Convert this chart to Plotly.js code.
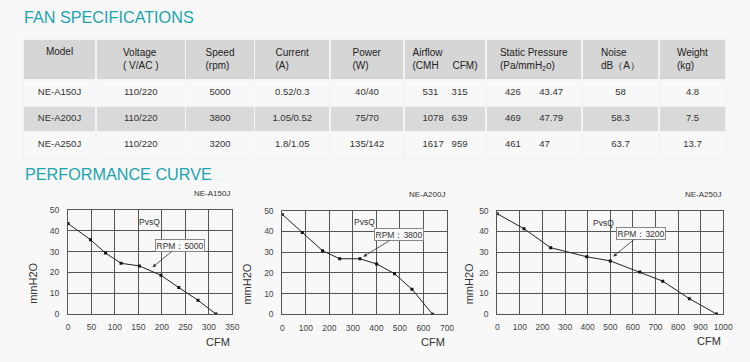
<!DOCTYPE html>
<html>
<head>
<meta charset="utf-8">
<script src="https://cdn.plot.ly/plotly-3.0.1.min.js"></script>
<style>
html,body{margin:0;padding:0;background:#f8f8f8;}
#chart{width:750px;height:362px;}
</style>
</head>
<body>
<div id="chart"></div>
<script>
// ---------- Table data ----------
const headers = ['Model', 'Voltage<br>( V/AC )', 'Speed<br>(rpm)', 'Current<br>(A)', 'Power<br>(W)',
  'Airflow\u00A0\u00A0\u00A0\u00A0\u00A0\u00A0\u00A0\u00A0<br>(CMH\u00A0\u00A0\u00A0\u00A0\u00A0CFM)',
  'Static Pressure<br>(Pa/mmH<sub>2</sub>o)', 'Noise<br>dB（A）', 'Weight<br>(kg)'];
const models = ['NE-A150J', 'NE-A200J', 'NE-A250J'];
const voltage = ['110/220', '110/220', '110/220'];
const speed = ['5000', '3800', '3200'];
const current = ['0.52/0.3', '1.05/0.52', '1.8/1.05'];
const power = ['40/40', '75/70', '135/142'];
const airflowCMH = ['531', '1078', '1617'];
const airflowCFM = ['315', '639', '959'];
const pressurePa = ['426', '469', '461'];
const pressureMm = ['43.47', '47.79', '47'];
const noise = ['58', '58.3', '63.7'];
const weight = ['4.8', '7.5', '13.7'];

// ---------- Curve data (CFM vs mmH2O) ----------
const curveModels = ['NE-A150J', 'NE-A200J', 'NE-A250J'];
const rpmLabels = ['RPM：5000', 'RPM：3800', 'RPM：3200'];
const cfmA150 = [0, 48, 80, 113, 152, 198, 236, 277, 315];
const pA150 = [43.5, 35.7, 29.3, 24.4, 23.1, 18.6, 12.7, 6.6, 0];
const cfmA200 = [0, 85, 171, 244, 330, 401, 477, 551, 639];
const pA200 = [48.2, 39.5, 30.7, 26.8, 26.8, 24.3, 19.6, 12.1, 0];
const cfmA250 = [0, 118, 236, 396, 500, 631, 732, 850, 970];
const pA250 = [48.5, 41.3, 32.1, 27.7, 25.7, 20.3, 15.9, 7.4, 0];

// ---------- helpers ----------
const NB = '\u00A0';
function sp(n){ return NB.repeat(n); }
// width in "units": digit = 2, '.' = 1 (nbsp = 1), Arial metrics
const unitW = s => [...s].reduce((t,c)=> t + (c==='.'?1:2), 0);
// Airflow: second number starts 11 units after the first one starts
const airflowText = airflowCMH.map((a,i)=> a + sp(11 - unitW(a)) + airflowCFM[i]);
// Static pressure: second number starts 13 units after first; pad to 22 units
const pressureText = pressurePa.map((a,i)=>{
  const s = a + sp(13 - unitW(a)) + pressureMm[i];
  return s + sp(22 - (13 + unitW(pressureMm[i])));
});

const rowFill = ['#f8f8f8', '#d9d9d9', '#f8f8f8'];
const nCols = headers.length;

const traces = [];
traces.push({
  type: 'table',
  domain: {x: [23/750, 726/750], y: [0.45, 1 - 39/362]},
  columnwidth: [73, 89.5, 69, 75.5, 74, 82, 96, 77, 67],
  header: {
    values: headers,
    align: 'center',
    height: 36,
    fill: {color: '#d6d6d6'},
    line: {color: '#f4f4f4', width: 1.5},
    font: {family: 'Liberation Sans, Arial, sans-serif', size: 10, color: '#222'}
  },
  cells: {
    values: [models, voltage, speed, current, power, airflowText, pressureText, noise, weight],
    align: 'center',
    height: 26,
    fill: {color: Array.from({length: nCols}, () => rowFill)},
    line: {color: '#f4f4f4', width: 1.5},
    font: {family: 'Liberation Sans, Arial, sans-serif', size: 9.5, color: '#333'}
  }
});

const curves = [[cfmA150, pA150], [cfmA200, pA200], [cfmA250, pA250]];
curves.forEach((c, i) => {
  traces.push({
    type: 'scatter', mode: 'lines+markers',
    x: c[0], y: c[1],
    xaxis: i === 0 ? 'x' : 'x' + (i+1),
    yaxis: i === 0 ? 'y' : 'y' + (i+1),
    line: {color: '#222', width: 1},
    marker: {symbol: 'square', size: 3, color: '#111'},
    showlegend: false, hoverinfo: 'skip'
  });
});

const xRanges = [[0, 350], [0, 700], [0, 1000]];
const xDticks = [50, 100, 100];
const xDomains = [[68/750, 232.3/750], [282.3/750, 447/750], [497.3/750, 723.3/750]];
const yDomains = [[1-314/362, 1-210/362], [1-314.3/362, 1-210.7/362], [1-314/362, 1-210.7/362]];
const pvsqPos = [[173, 44.4], [351, 44.4], [469, 44.2]];
const rpmTip = [[180, 22.5, 27, -22], [344, 27.8, 36, -22], [513, 27.8, 28, -23]];
const ytitleShift = [-35, -35, -28];

const tickFont = {family: 'Liberation Sans, Arial, sans-serif', size: 8.5, color: '#444'};
const titleFont = {family: 'Liberation Sans, Arial, sans-serif', size: 16.2, color: '#1ba4ad'};
const layout = {
  width: 750, height: 362,
  margin: {l: 0, r: 0, t: 0, b: 0, pad: 0},
  paper_bgcolor: '#f8f8f8', plot_bgcolor: '#f8f8f8',
  showlegend: false,
  font: {family: 'Liberation Sans, Arial, sans-serif', color: '#333'},
  annotations: [
    {text: 'FAN SPECIFICATIONS', xref: 'paper', yref: 'paper', x: 21.5/750, y: 1 - 17/362,
     xanchor: 'left', yanchor: 'middle', showarrow: false, font: titleFont},
    {text: 'PERFORMANCE CURVE', xref: 'paper', yref: 'paper', x: 22.5/750, y: 1 - 173.7/362,
     xanchor: 'left', yanchor: 'middle', showarrow: false, font: titleFont}
  ]
};

for (let i = 0; i < 3; i++) {
  const sx = i === 0 ? '' : String(i+1);
  layout['xaxis' + sx] = {
    domain: xDomains[i], anchor: 'y' + sx, range: xRanges[i], dtick: xDticks[i], tick0: 0,
    showgrid: true, gridcolor: '#555', gridwidth: 1, zeroline: false,
    showline: true, mirror: true, linecolor: '#555', linewidth: 1,
    ticks: '', tickfont: tickFont, ticklabelstandoff: 5, fixedrange: true
  };
  layout['yaxis' + sx] = {
    domain: yDomains[i], anchor: 'x' + sx, range: [0, 50], dtick: 10, tick0: 0,
    showgrid: true, gridcolor: '#555', gridwidth: 1, zeroline: false,
    showline: true, mirror: true, linecolor: '#555', linewidth: 1,
    ticks: '', tickfont: tickFont, ticklabelstandoff: 6, fixedrange: true
  };
  const xr = 'x' + sx, yr = 'y' + sx;
  layout.annotations.push(
    {text: curveModels[i], xref: xr + ' domain', yref: yr + ' domain', x: 1, y: 1.156,
     xanchor: 'right', yanchor: 'middle', showarrow: false,
     font: {size: 8, color: '#333'}},
    {text: 'CFM', xref: xr + ' domain', yref: yr + ' domain', x: 1, y: -0.266,
     xanchor: 'right', yanchor: 'middle', showarrow: false,
     font: {size: 11, color: '#333'}},
    {text: 'mmH2O', xref: xr + ' domain', yref: yr + ' domain', x: 0, xshift: ytitleShift[i], y: 0.29,
     xanchor: 'center', yanchor: 'middle', textangle: -90, showarrow: false,
     font: {size: 11, color: '#333'}},
    {text: 'PvsQ', xref: xr, yref: yr, x: pvsqPos[i][0], y: pvsqPos[i][1],
     showarrow: false, font: {size: 8.5, color: '#333'}},
    {text: rpmLabels[i], xref: xr, yref: yr, x: rpmTip[i][0], y: rpmTip[i][1],
     ax: rpmTip[i][2], ay: rpmTip[i][3], showarrow: true, arrowhead: 2, arrowsize: 0.9,
     arrowwidth: 0.8, arrowcolor: '#333', bordercolor: '#888', borderwidth: 1, borderpad: 0.5,
     bgcolor: '#fafafa', font: {size: 8.5, color: '#333'}}
  );
}

Plotly.newPlot('chart', traces, layout, {staticPlot: true, displayModeBar: false});
</script>
</body>
</html>
